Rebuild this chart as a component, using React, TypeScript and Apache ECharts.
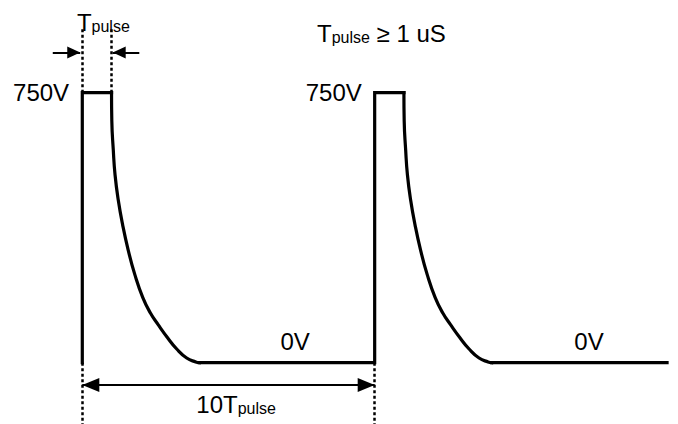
import React, { useEffect, useRef } from "react";
import * as echarts from "echarts";

// ---- data: time in units of Tpulse, voltage in volts ----
const pulseStarts = [0, 10];
const pulseWidth = 1;
const peakVolts = 750;
const baseVolts = 0;
const traceEnd = 20;
// decay after each pulse (time measured from the pulse's rising edge)
const decayTime = [1.0, 1.01, 1.06, 1.12, 1.23, 1.38, 1.57, 1.8, 2.07, 2.33, 2.6, 2.91, 3.23, 3.57, 3.88, 4.0];
const decayVolts = [750, 671, 591, 522, 452, 383, 313, 244, 181, 138, 105, 70, 38, 13, 2, 0];

// ---- texts ----
const peakText = "750V";
const baseText = "0V";
const periodText = "10T";
const subText = "pulse";
const conditionText = " ≥ 1 uS";

const FONT = "'Liberation Sans', Arial, Helvetica, sans-serif";
const BLACK = "#000";

const RICH = {
  t: { fontSize: 24, fontFamily: FONT, color: BLACK },
  s: { fontSize: 16, fontFamily: FONT, color: BLACK, verticalAlign: "bottom", lineHeight: 14 },
};

const ARROW_S = "path://M0,-13L0,-13M0,0L6,13L-6,13Z";
const ARROW_L = "path://M0,-17L0,-17M0,0L7,17L-7,17Z";

export default function App() {
  const ref = useRef<HTMLDivElement>(null);

  useEffect(() => {
    document.body.style.margin = "0";
    const chart = echarts.init(ref.current!, null, { renderer: "svg" });

    const traceStyle = { color: BLACK, width: 3.2, join: "miter", cap: "square" };
    const series: any[] = [];

    pulseStarts.forEach((t0, i) => {
      const pts: number[][] = [];
      if (i > 0) pts.push([pulseStarts[i - 1] + decayTime[decayTime.length - 1], baseVolts]);
      pts.push([t0, baseVolts], [t0, peakVolts], [t0 + pulseWidth, peakVolts]);
      series.push({
        type: "line",
        data: pts,
        symbol: "none",
        clip: false,
        silent: true,
        lineStyle: traceStyle,
      });
      series.push({
        type: "line",
        data: decayTime.map((t, j) => [t0 + t, decayVolts[j]]),
        symbol: "none",
        smooth: 0.5,
        clip: false,
        silent: true,
        lineStyle: traceStyle,
      });
    });
    const lastStart = pulseStarts[pulseStarts.length - 1];
    series.push({
      type: "line",
      data: [
        [lastStart + decayTime[decayTime.length - 1], baseVolts],
        [traceEnd, baseVolts],
      ],
      symbol: "none",
      clip: false,
      silent: true,
      lineStyle: traceStyle,
    });

    const p0 = pulseStarts[0];
    const p1 = pulseStarts[1];
    const guideTop = 930;
    const guideBottom = -170;
    const topArrowY = 862;
    const spanArrowY = -62;

    // dashed guides
    series.push({
      type: "line",
      data: [],
      silent: true,
      markLine: {
        silent: true,
        animation: false,
        symbol: ["none", "none"],
        label: { show: false },
        emphasis: { disabled: true },
        lineStyle: { color: BLACK, width: 2.5, type: [3, 2.5] },
        data: [
          [{ coord: [p0, peakVolts] }, { coord: [p0, guideTop] }],
          [{ coord: [p0 + pulseWidth, peakVolts] }, { coord: [p0 + pulseWidth, guideTop] }],
          [{ coord: [p0, baseVolts] }, { coord: [p0, guideBottom] }],
          [{ coord: [p1, baseVolts] }, { coord: [p1, guideBottom] }],
        ],
      },
    });

    // arrows
    series.push({
      type: "line",
      data: [],
      silent: true,
      markLine: {
        silent: true,
        animation: false,
        label: { show: false },
        emphasis: { disabled: true },
        lineStyle: { color: BLACK, width: 2, type: "solid" },
        data: [
          [
            { coord: [p0 - 1.01, topArrowY], symbol: "none" },
            { coord: [p0 - 0.07, topArrowY], symbol: ARROW_S, symbolSize: [12, 26] },
          ],
          [
            { coord: [p0 + pulseWidth + 0.95, topArrowY], symbol: "none" },
            { coord: [p0 + pulseWidth + 0.04, topArrowY], symbol: ARROW_S, symbolSize: [12, 26] },
          ],
          [
            { coord: [p0, spanArrowY], symbol: ARROW_L, symbolSize: [14, 34] },
            { coord: [p1, spanArrowY], symbol: ARROW_L, symbolSize: [14, 34] },
          ],
        ],
      },
    });

    const lbl = (formatter: string, position: string = "inside") => ({
      show: true,
      position,
      distance: 0,
      formatter,
      rich: RICH,
      color: BLACK,
      fontFamily: FONT,
      fontSize: 24,
    });

    // texts
    series.push({
      type: "line",
      data: [],
      silent: true,
      markPoint: {
        silent: true,
        animation: false,
        symbol: "circle",
        symbolSize: 0,
        itemStyle: { color: "transparent" },
        emphasis: { disabled: true },
        data: [
          { coord: [0.72, 944], label: lbl(`{t|T}{s|${subText}}`) },
          { coord: [10.23, 914], label: lbl(`{t|T}{s|${subText}}{t|${conditionText}}`) },
          { coord: [p0 - 0.45, peakVolts], label: lbl(`{t|${peakText}}`, "left") },
          { coord: [p1 - 0.44, peakVolts], label: lbl(`{t|${peakText}}`, "left") },
          { coord: [7.28, 60], label: lbl(`{t|${baseText}}`) },
          { coord: [17.33, 60], label: lbl(`{t|${baseText}}`) },
          { coord: [5.26, -117], label: lbl(`{t|${periodText}}{s|${subText}}`) },
        ],
      },
    });

    chart.setOption({
      animation: false,
      grid: { left: 9.2, right: 5.1, top: 20.7, bottom: 0.1 },
      xAxis: { type: "value", min: -2.5, max: 20.2, show: false },
      yAxis: { type: "value", min: -170, max: 950, show: false },
      series,
    });

    return () => chart.dispose();
  }, []);

  return (
    <div
      ref={ref}
      style={{ position: "absolute", left: 0, top: 0, width: 678, height: 424, background: "#fff" }}
    />
  );
}
